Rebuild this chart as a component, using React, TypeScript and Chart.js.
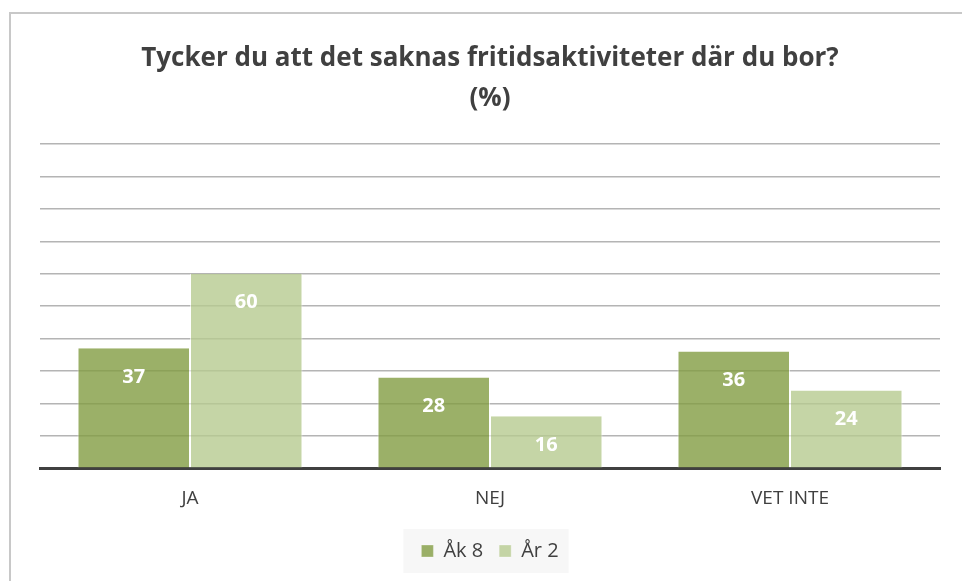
import React, { useEffect, useRef } from "react";
import { Chart, registerables } from "chart.js";

Chart.register(...registerables);

const categories = ["JA", "NEJ", "VET INTE"];
const seriesNames = ["Åk 8", "År 2"];
const ak8Values = [37, 28, 36];
const ar2Values = [60, 16, 24];
const titleLines = ["Tycker du att det saknas fritidsaktiviteter där du bor?", "(%)"];

const FONT = "'Open Sans', 'DejaVu Sans', sans-serif";

const legendBgPlugin = {
  id: "legendBg",
  beforeDraw(chart: any) {
    const lg = chart.legend;
    if (!lg || !lg.legendHitBoxes || !lg.legendHitBoxes.length) return;
    const boxes = lg.legendHitBoxes;
    let minX = Infinity, maxX = -Infinity, minY = Infinity, maxY = -Infinity;
    boxes.forEach((b: any) => {
      minX = Math.min(minX, b.left);
      maxX = Math.max(maxX, b.left + b.width);
      minY = Math.min(minY, b.top);
      maxY = Math.max(maxY, b.top + b.height);
    });
    const ctx = chart.ctx;
    ctx.save();
    ctx.fillStyle = "#F7F7F7";
    ctx.fillRect(minX - 18, minY - 12, maxX - minX + 28, maxY - minY + 24);
    ctx.restore();
  },
};

const barLabelPlugin = {
  id: "barLabels",
  afterDatasetsDraw(chart: any) {
    const ctx = chart.ctx;
    ctx.save();
    ctx.fillStyle = "#FFFFFF";
    ctx.font = `bold 20px ${FONT}`;
    ctx.textAlign = "center";
    ctx.textBaseline = "middle";
    chart.data.datasets.forEach((ds: any, i: number) => {
      const meta = chart.getDatasetMeta(i);
      meta.data.forEach((bar: any, j: number) => {
        ctx.fillText(String(ds.data[j]), bar.x, bar.y + 29);
      });
    });
    ctx.restore();
  },
};

export default function App() {
  const ref = useRef<HTMLCanvasElement | null>(null);
  useEffect(() => {
    if (!ref.current) return;
    const chart = new Chart(ref.current, {
      type: "bar",
      data: {
        labels: categories,
        datasets: [
          {
            label: seriesNames[0],
            data: ak8Values,
            backgroundColor: "rgba(130,156,66,0.8)",
            borderColor: "rgba(255,255,255,0.6)",
            borderWidth: { left: 1, right: 1, top: 0, bottom: 0 },
            categoryPercentage: 0.75,
            barPercentage: 1,
          },
          {
            label: seriesNames[1],
            data: ar2Values,
            backgroundColor: "rgba(183,203,144,0.8)",
            borderColor: "rgba(255,255,255,0.6)",
            borderWidth: { left: 1, right: 1, top: 0, bottom: 0 },
            categoryPercentage: 0.75,
            barPercentage: 1,
          },
        ],
      },
      options: {
        animation: false,
        responsive: false,
        maintainAspectRatio: false,
        layout: { padding: { left: 40, right: 22, top: 0, bottom: 10 } },
        plugins: {
          title: {
            display: true,
            text: titleLines,
            color: "#404040",
            font: { family: FONT, size: 26, weight: "bold", lineHeight: "40px" },
            padding: { top: 39, bottom: 25 },
          },
          legend: {
            display: true,
            position: "bottom",
            labels: {
              color: "#404040",
              font: { family: FONT, size: 20 },
              boxWidth: 12,
              boxHeight: 12,
              padding: 16,
            },
          },
          tooltip: { enabled: false },
        },
        scales: {
          x: {
            grid: { display: false },
            border: { display: true, color: "#404040", width: 3 },
            ticks: { color: "#404040", font: { family: FONT, size: 19 }, padding: 11 },
            afterFit(scale: any) {
              scale.height += 4;
            },
          },
          y: {
            min: 0,
            max: 100,
            ticks: { display: false, stepSize: 10 },
            grid: { color: "#B4B4B4", lineWidth: 1.5, drawTicks: false },
            border: { display: false },
          },
        },
      },
      plugins: [legendBgPlugin, barLabelPlugin],
    });
    return () => chart.destroy();
  }, []);
  return (
    <div style={{ position: "fixed", left: 0, top: 0, width: 962, height: 581, background: "#fff" }}>
      <div
        style={{
          position: "absolute",
          left: 9,
          top: 12,
          width: 970,
          height: 600,
          borderLeft: "2px solid #C8C8C8",
          borderTop: "2px solid #C8C8C8",
        }}
      />
      <canvas ref={ref} width={962} height={581} style={{ position: "absolute", left: 0, top: 0 }} />
    </div>
  );
}
